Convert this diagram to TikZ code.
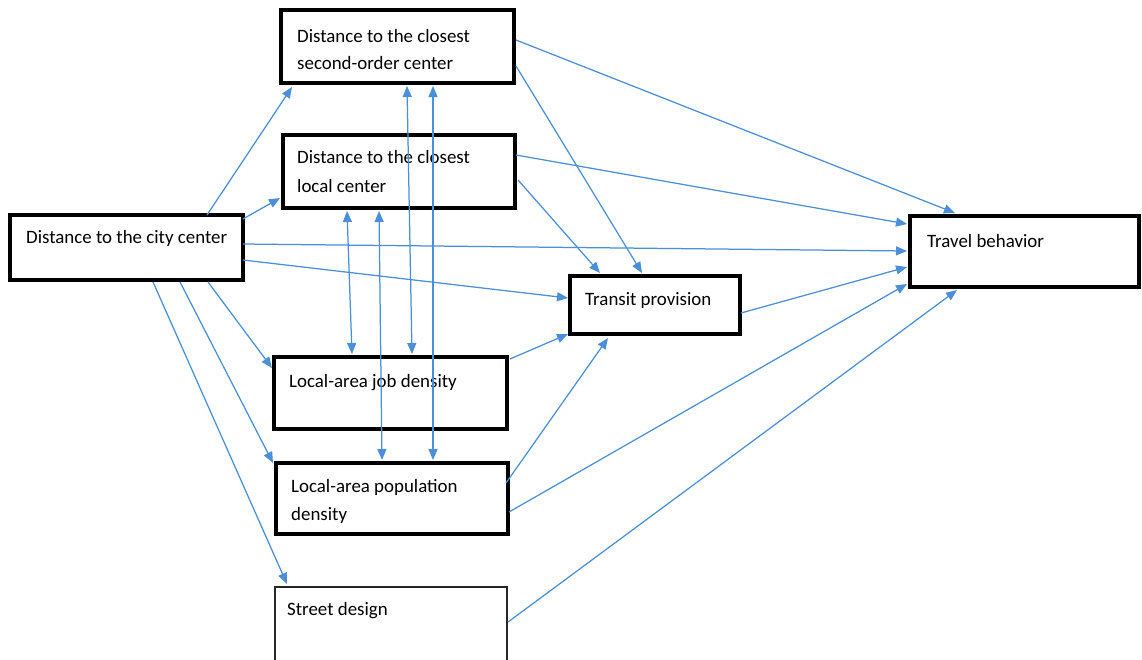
\documentclass[tikz,border=0pt]{standalone}
\usepackage{fontspec}
\setmainfont{Carlito}
\usetikzlibrary{arrows.meta}
\definecolor{arrblue}{HTML}{4A8FD8}
\begin{document}
\begin{tikzpicture}[x=1pt,y=-1pt,
  box/.style={draw=black, line width=3.5pt, rectangle, outer sep=0pt, inner sep=0pt, anchor=north west},
  thinbox/.style={draw=black!85, line width=1.5pt, rectangle, outer sep=0pt, inner sep=0pt, anchor=north west},
  lbl/.style={anchor=base west, inner sep=0pt, font=\fontsize{18.9}{28}\selectfont},
  tip/.style={Triangle[length=11pt,width=9pt]},
  arr/.style={draw=arrblue, line width=1.25pt, -{Triangle[length=11pt,width=9pt]}},
  darr/.style={draw=arrblue, line width=1.25pt, {Triangle[length=11pt,width=9pt]}-{Triangle[length=11pt,width=9pt]}}]
\useasboundingbox (0,0) rectangle (1142,659);

% boxes
\node[box, minimum width=233pt, minimum height=73pt] (A) at (281,10) {};
\node[box, minimum width=232pt, minimum height=73pt] (B) at (283,135) {};
\node[box, minimum width=233pt, minimum height=65pt] (C) at (10,215) {};
\node[box, minimum width=233pt, minimum height=72pt] (D) at (274,357) {};
\node[box, minimum width=232pt, minimum height=71pt] (E) at (276,463) {};
\node[thinbox, minimum width=232pt, minimum height=75pt] (F) at (275,587) {};
\node[box, minimum width=170pt, minimum height=58pt] (G) at (570,276) {};
\node[box, minimum width=229pt, minimum height=71pt] (H) at (910,216) {};

% labels
\node[lbl] (A1) at (297,42) {Distance to the closest};
\node[lbl] (A2) at (297,69) {second-order center};
\node[lbl] (B1) at (297,163) {Distance to the closest};
\node[lbl] (B2) at (297,192) {local center};
\node[lbl] (C1) at (26,243) {Distance to the city center};
\node[lbl] (D1) at (289,387) {Local-area job density};
\node[lbl] (E1) at (291,492) {Local-area population};
\node[lbl] (E2) at (291,520) {density};
\node[lbl] (F1) at (287,615) {Street design};
\node[lbl] (G1) at (585,305) {Transit provision};
\node[lbl] (H1) at (927,247) {Travel behavior};

% arrows from city center
\draw[arr] ([shift={(197,0)}]C.north west) -- ([shift={(11,77)}]A.north west);
\draw[arr] ([shift={(233,4)}]C.north west) -- ([shift={(-3,63)}]B.north west);
\draw[arr] ([shift={(233,29)}]C.north west) -- ([shift={(-3,35)}]H.north west);
\draw[arr] ([shift={(233,45)}]C.north west) -- ([shift={(-2,22)}]G.north west);
\draw[arr] ([shift={(198,67)}]C.north west) -- ([shift={(-2,11)}]D.north west);
\draw[arr] ([shift={(170,67)}]C.north west) -- ([shift={(-3,0)}]E.north west);
\draw[arr] ([shift={(143,67)}]C.north west) -- ([shift={(12,-3)}]F.north west);

% from second-order center
\draw[arr] ([shift={(235,30)}]A.north west) -- ([shift={(45,-3)}]H.north west);
\draw[arr] ([shift={(235,56)}]A.north west) -- ([shift={(72,-3)}]G.north west);

% from local center
\draw[arr] ([shift={(233,20)}]B.north west) -- ([shift={(-3,8)}]H.north west);
\draw[arr] ([shift={(235,45)}]B.north west) -- ([shift={(30,-3)}]G.north west);

% two-way arrows
\draw[darr] ([shift={(64,76)}]B.north west) -- ([shift={(78,-3)}]D.north west);
\draw[darr] ([shift={(96,76)}]B.north west) -- ([shift={(106,-3)}]E.north west);
\draw[darr] ([shift={(126,76)}]A.north west) -- ([shift={(138,-3)}]D.north west);
\draw[darr] ([shift={(152,76)}]A.north west) -- ([shift={(157,-3)}]E.north west);

% to transit / travel
\draw[arr] ([shift={(236,2)}]D.north west) -- ([shift={(-2,58)}]G.north west);
\draw[arr] ([shift={(230,20)}]E.north west) -- ([shift={(38,62)}]G.north west);
\draw[arr] ([shift={(233,49)}]E.north west) -- ([shift={(-3,68)}]H.north west);
\draw[arr] ([shift={(233,35)}]F.north west) -- ([shift={(47,74)}]H.north west);
\draw[arr] ([shift={(171,37)}]G.north west) -- ([shift={(-3,51)}]H.north west);
\end{tikzpicture}
\end{document}
